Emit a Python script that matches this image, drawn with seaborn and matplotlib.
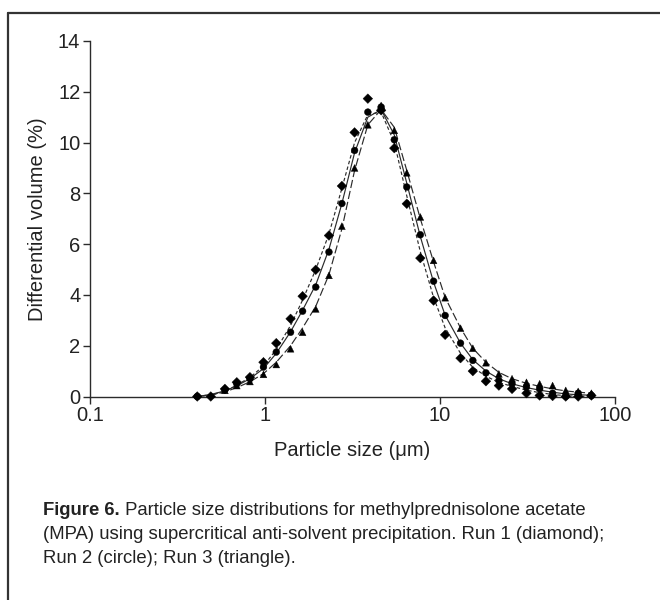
import numpy as np
import pandas as pd
import seaborn as sns
import matplotlib.pyplot as plt
from matplotlib.lines import Line2D

# particle size bins (um)
size_um = [0.41, 0.49, 0.59, 0.69, 0.82, 0.98, 1.16, 1.40, 1.64, 1.95, 2.32,
           2.75, 3.25, 3.87, 4.61, 5.48, 6.46, 7.72, 9.19, 10.7, 13.1, 15.4,
           18.3, 21.7, 25.8, 31.2, 37.1, 44.0, 52.3, 61.6, 73.3]

# measured points (%)
run1_pts = [0.0, 0.0, 0.30, 0.56, 0.76, 1.35, 2.10, 3.06, 3.95, 4.99, 6.34,
            8.29, 10.4, 11.73, 11.27, 9.78, 7.59, 5.45, 3.78, 2.43, 1.51, 1.00,
            0.60, 0.43, 0.30, 0.13, 0.04, 0.02, 0.0, 0.0, 0.04]
run2_pts = [0.0, np.nan, 0.26, 0.50, 0.70, 1.16, 1.75, 2.53, 3.36, 4.31, 5.69,
            7.60, 9.69, 11.2, 11.4, 10.11, 8.25, 6.37, 4.54, 3.19, 2.10, 1.42,
            0.93, 0.63, 0.50, 0.37, 0.30, 0.13, 0.01, 0.13, 0.04]
run3_pts = [np.nan, np.nan, 0.24, 0.43, 0.59, 0.87, 1.26, 1.88, 2.53, 3.45, 4.77,
            6.71, 9.0, 10.7, 11.46, 10.48, 8.81, 7.07, 5.36, 3.89, 2.69, 1.90,
            1.33, 0.89, 0.70, 0.56, 0.50, 0.43, 0.24, 0.20, 0.13]

# fitted curves (%)
run1_fit = [0.0, 0.07, 0.2, 0.45, 0.75, 1.2, 1.85, 2.8, 3.8, 5.0, 6.4, 8.2,
            10.0, 11.1, 11.2, 10.0, 7.9, 5.7, 3.9, 2.7, 1.7, 1.15, 0.8, 0.55,
            0.4, 0.25, 0.15, 0.08, 0.03, 0.01, 0.0]
run2_fit = [0.0, 0.08, 0.22, 0.42, 0.7, 1.1, 1.7, 2.55, 3.4, 4.4, 5.8, 7.6,
            9.6, 11.0, 11.3, 10.3, 8.4, 6.3, 4.5, 3.2, 2.1, 1.45, 1.0, 0.7,
            0.5, 0.35, 0.25, 0.17, 0.1, 0.07, 0.05]
run3_fit = [0.0, 0.05, 0.18, 0.35, 0.58, 0.9, 1.35, 2.0, 2.7, 3.55, 4.8, 6.6,
            8.9, 10.7, 11.3, 10.6, 8.9, 7.0, 5.3, 3.9, 2.7, 1.9, 1.35, 0.95,
            0.7, 0.52, 0.4, 0.3, 0.22, 0.17, 0.13]

runs = ["Run 1", "Run 2", "Run 3"]
x_ticks = [0.1, 1, 10, 100]
x_ticklabels = ["0.1", "1", "10", "100"]
y_ticks = [0, 2, 4, 6, 8, 10, 12, 14]

caption_bold = "Figure 6."
caption_lines = [
    " Particle size distributions for methylprednisolone acetate",
    "(MPA) using supercritical anti-solvent precipitation. Run 1 (diamond);",
    "Run 2 (circle); Run 3 (triangle).",
]

pts = pd.concat([pd.DataFrame({"size": size_um, "vol": v, "run": r})
                 for r, v in zip(runs, [run1_pts, run2_pts, run3_pts])]).dropna()
fit = pd.concat([pd.DataFrame({"size": size_um, "vol": v, "run": r})
                 for r, v in zip(runs, [run1_fit, run2_fit, run3_fit])])

sns.set_style("ticks")
plt.rcParams['font.family'] = ['Liberation Sans', 'DejaVu Sans']
ink = "#2b2b2b"

fig = plt.figure(figsize=(6.6, 6), dpi=100)
W, H = 660, 600
ax = fig.add_axes([90 / W, 1 - 396.5 / H, 525 / W, 355.5 / H])

sns.lineplot(data=fit, x="size", y="vol", style="run",
             dashes={"Run 1": (3, 2), "Run 2": "", "Run 3": (7, 2.5)},
             color=ink, linewidth=0.85, legend=False, ax=ax)
sns.scatterplot(data=pts, x="size", y="vol", style="run",
                markers={"Run 1": "D", "Run 2": "o", "Run 3": "^"},
                color="black", edgecolor="black", linewidth=0.3, s=24,
                legend=False, clip_on=False, zorder=3, ax=ax)

ax.set_xscale("log")
ax.set_xlim(0.1, 100)
ax.set_ylim(0, 14)
ax.set_xticks(x_ticks)
ax.set_xticklabels(x_ticklabels)
ax.xaxis.set_minor_locator(plt.NullLocator())
ax.set_yticks(y_ticks)
sns.despine(ax=ax)
for sp in ["left", "bottom"]:
    ax.spines[sp].set_color(ink)
    ax.spines[sp].set_linewidth(1.0)
ax.tick_params(length=5, width=1.0, color=ink, labelcolor="#222222",
               labelsize=14.5, pad=2)

ax.set_xlabel("Particle size (\u03bcm)", fontsize=14.5, color="#222222")
ax.set_ylabel("Differential volume (%)", fontsize=14.5, color="#222222")
ax.xaxis.set_label_coords(0.5, -(441 - 396.5) / 355.5)
ax.yaxis.set_label_coords((47 - 90) / 525, 0.5)

# page frame (left and top edges)
fig.add_artist(Line2D([8 / W, 8 / W], [0, 1 - 13 / H], transform=fig.transFigure,
                      color="#333333", lw=1.6))
fig.add_artist(Line2D([8 / W, 1], [1 - 13 / H, 1 - 13 / H], transform=fig.transFigure,
                      color="#333333", lw=1.6))

cap_font = ['Liberation Sans', 'DejaVu Sans']
cap_size = 13.3
x0 = 43 / W
baselines = [515, 539, 563]
renderer = fig.canvas.get_renderer()
tb = fig.text(x0, 1 - baselines[0] / H, caption_bold, family=cap_font,
              fontsize=cap_size, fontweight="bold", color="#222222", va="baseline")
bb = tb.get_window_extent(renderer)
fig.text(bb.x1 / W, 1 - baselines[0] / H, caption_lines[0], family=cap_font,
         fontsize=cap_size, color="#222222", va="baseline")
for line, yb in zip(caption_lines[1:], baselines[1:]):
    fig.text(x0, 1 - yb / H, line, family=cap_font, fontsize=cap_size,
             color="#222222", va="baseline")

fig.savefig("out.png", dpi=100)
